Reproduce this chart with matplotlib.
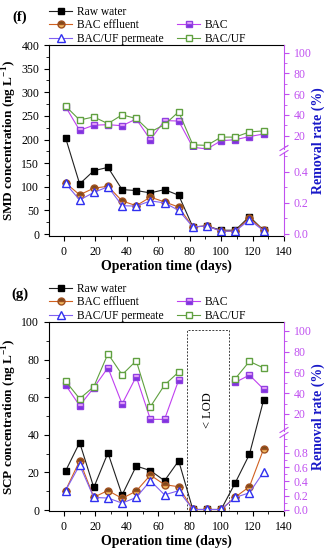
import numpy as np
import matplotlib
matplotlib.use('Agg')
import matplotlib.pyplot as plt
from matplotlib.lines import Line2D
from matplotlib.patches import Rectangle
from matplotlib.ticker import MultipleLocator

plt.rcParams['font.family'] = ['Liberation Serif', 'DejaVu Serif']
plt.rcParams['mathtext.fontset'] = 'custom'
plt.rcParams['mathtext.rm'] = 'Liberation Serif'
plt.rcParams['mathtext.bf'] = 'Liberation Serif:bold'

# sampling days (same for both panels)
days = [1, 10, 19, 28, 37, 46, 55, 64, 73, 82, 91, 100, 109, 118, 127]

# (f) SMD, ng/L
smd_raw = [204, 106, 134, 141, 94, 92, 87, 94, 82, 15, 17, 8, 8, 37, 8]
smd_bac_eff = [108, 83, 97, 101, 70, 60, 78, 68, 57, 15, 17, 6, 6, 34, 8]
smd_uf_perm = [107, 72, 88, 100, 60, 59, 70, 66, 50, 15, 17, 6, 6, 30, 7]
# (f) SMD removal rate, %
smd_rem_bac = [48, 25, 30, 30.5, 29.5, 36, 16, 34.5, 34, 8.7, 7, 15, 16, 19, 21.5]
smd_rem_bacuf = [48.5, 35, 38, 31.5, 40, 36.5, 23.5, 30.5, 43, 11, 10.5, 18.5, 18.5, 23.5, 24.5]

# (g) SCP, ng/L
scp_raw = [20.7, 35.9, 12, 30.4, 8, 23.4, 21, 15.6, 26.2, 0.3, 0.3, 0.3, 14.5, 29.6, 58.4]
scp_bac_eff = [10.4, 26.2, 6.8, 10.4, 6.2, 10.1, 18.6, 13.5, 12.4, 0.3, 0.3, 0.3, 6.9, 12.4, 32.4]
scp_uf_perm = [10.3, 23.9, 6.7, 6.4, 3.7, 6.7, 15.6, 8.1, 10.3, 0.3, 0.3, 0.3, 6.7, 9.2, 20.2]
# (g) SCP removal rate, % (none while below LOD)
scp_rem_bac = [48, 28, 45.3, 64.6, 29.6, 56, 14.8, 14.8, 52.7, np.nan, np.nan, np.nan, 50.4, 57.5, 44]
scp_rem_bacuf = [51.7, 34.7, 46.3, 78, 57.8, 71.3, 27, 47.9, 60.4, np.nan, np.nan, np.nan, 54, 70.7, 64.3]

lod_start, lod_end, lod_top = 78.5, 105, 96

W, H = 331, 550
fig = plt.figure(figsize=(W / 100, H / 100), dpi=100)

def box(x0, y0, x1, y1):
	return [x0 / W, 1 - y1 / H, (x1 - x0) / W, (y1 - y0) / H]

purple = '#c050f0'
tick_fs = 8.5

def style_left(ax):
	for s in ['top', 'right']:
		ax.spines[s].set_visible(False)
	ax.tick_params(labelsize=tick_fs, direction='out', length=3.5, width=0.8)
	ax.tick_params(which='minor', direction='out', length=2, width=0.6)
	ax.xaxis.set_minor_locator(MultipleLocator(10))
	ax.set_xlim(-9.5, 140)
	ax.set_xticks(range(0, 141, 20))
	ax.plot([0, 1], [1, 1], transform=ax.transAxes, color='black', lw=0.8, clip_on=False)

def style_right(ax, lo, hi, ticks, minor, fmt):
	ax.set_facecolor('none')
	ax.set_xlim(-9.5, 140)
	ax.set_xticks([])
	for s in ['top', 'bottom', 'left']:
		ax.spines[s].set_visible(False)
	ax.spines['right'].set_color(purple)
	ax.yaxis.tick_right()
	ax.set_ylim(lo, hi)
	ax.set_yticks(ticks)
	ax.set_yticklabels([fmt.format(t) for t in ticks])
	ax.yaxis.set_minor_locator(MultipleLocator(minor))
	ax.tick_params(axis='y', colors=purple, labelsize=tick_fs, direction='out', length=3.5, width=0.8)
	ax.tick_params(axis='y', which='minor', colors=purple, direction='out', length=2, width=0.6)

def draw_panel(top, bottom, gap_hi, gap_lo, lims, conc, rem, ylabel, ymax, ylo, yticks, tag, leg_y):
	ax = fig.add_axes(box(49, top, 284, bottom))
	ax.set_facecolor('none')
	style_left(ax)
	ax.set_ylim(ylo, ymax)
	ax.set_yticks(yticks)
	ax.yaxis.set_minor_locator(MultipleLocator((yticks[1] - yticks[0]) / 2))
	h_raw, = ax.plot(days, conc[0], '-s', color='#202020', lw=0.8, ms=5, mfc='black', mec='black', label='Raw water')
	h_eff, = ax.plot(days, conc[1], '-o', color='#d06020', lw=0.8, ms=5, mec='#a05020',
		mfc='#7a4a1a', mfcalt='#f0b860', fillstyle='top', label='BAC effluent')
	h_perm, = ax.plot(days, conc[2], '-^', color='#8060f0', lw=0.8, ms=5.5, mec='#3030f0', mfc='white', label='BAC/UF permeate')
	ax.set_ylabel(ylabel, fontsize=9.5, fontweight='bold', labelpad=2)
	ax.set_xlabel('Operation time (days)', fontsize=10, fontweight='bold', labelpad=1)

	lo_ax = fig.add_axes(box(49, gap_lo, 284, bottom))
	style_right(lo_ax, lims[0], lims[1], lims[2], lims[3], '{:.1f}')
	up_ax = fig.add_axes(box(49, top, 284, gap_hi))
	style_right(up_ax, lims[4], lims[5], [20, 40, 60, 80, 100], 10, '{:d}')
	h_bac, = up_ax.plot(days, rem[0], '-s', color='#c040f0', lw=0.8, ms=5, mec='#9040e0',
		mfc='#7a30e0', mfcalt='#f4b0ff', fillstyle='bottom', label='BAC')
	h_bacuf, = up_ax.plot(days, rem[1], '-s', color='#60a040', lw=0.8, ms=5, mec='#60a040', mfc='white', label='BAC/UF')

	# break marks on the right axis
	xr = 284 / W
	for yy in [gap_hi - 1, gap_lo + 1]:
		fig.add_artist(Line2D([xr - 0.012, xr + 0.012], [1 - (yy + 2.5) / H, 1 - (yy - 2.5) / H], color=purple, lw=0.8))

	fig.text(318 / W, 1 - (top + bottom) / 2 / H, 'Removal rate (%)', rotation=90, ha='center', va='center',
		fontsize=10, fontweight='bold', color='#1818c8')
	fig.text(20 / W, 1 - (leg_y + 6) / H, tag, fontsize=10.5, fontweight='bold', ha='center', va='center')

	blank = Line2D([], [], linestyle='none', marker='none', label=' ')
	fig.legend([h_raw, h_eff, h_perm, blank, h_bac, h_bacuf],
		['Raw water', 'BAC effluent', 'BAC/UF permeate', '', 'BAC', 'BAC/UF'],
		ncol=2, loc='upper left', bbox_to_anchor=(49 / W, 1 - (leg_y - 5) / H), frameon=False,
		fontsize=8.3, handlelength=2.0, handletextpad=0.4, columnspacing=1.2, labelspacing=0.12,
		borderpad=0, borderaxespad=0)
	return ax

draw_panel(45, 236, 149, 152, (-0.013, 0.529, [0.0, 0.2, 0.4], 0.1, 7.0, 107.5),
	(smd_raw, smd_bac_eff, smd_uf_perm), (smd_rem_bac, smd_rem_bacuf),
	'SMD concentration (ng L$^{\\mathbf{-1}}$)', 400, -4.2, [0, 50, 100, 150, 200, 250, 300, 350, 400], '(f)', 11)

axg = draw_panel(322, 511, 431, 434, (-0.014, 1.063, [0.0, 0.2, 0.4, 0.6, 0.8], 0.1, 3.6, 108.6),
	(scp_raw, scp_bac_eff, scp_uf_perm), (scp_rem_bac, scp_rem_bacuf),
	'SCP concentration (ng L$^{\\mathbf{-1}}$)', 100, -0.5, [0, 20, 40, 60, 80, 100], '(g)', 288)

axg.add_patch(Rectangle((lod_start, -0.5), lod_end - lod_start, lod_top + 0.5, fill=False,
	linestyle=(0, (2, 1.5)), edgecolor='#404040', lw=0.7, zorder=0.5))
axg.text((lod_start + lod_end) / 2, 53, '< LOD', rotation=90, ha='center', va='center', fontsize=9)

fig.savefig('out.png', dpi=100)
